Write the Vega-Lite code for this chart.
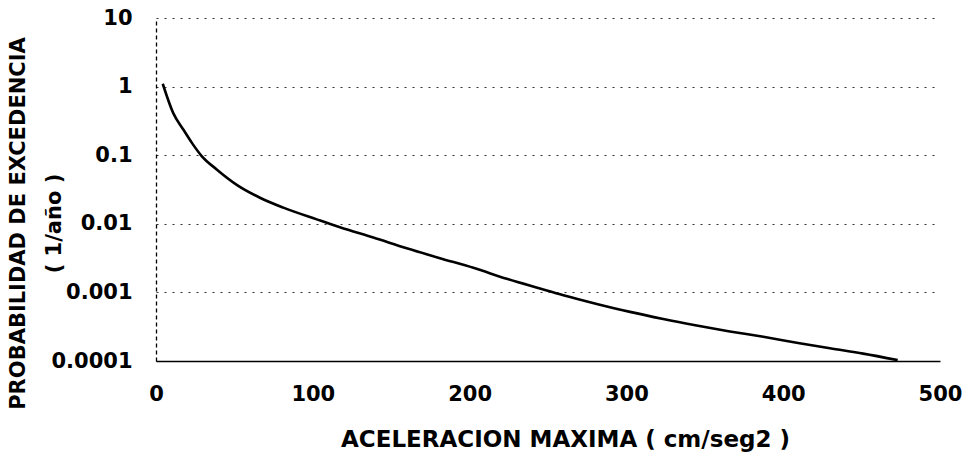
{
  "$schema": "https://vega.github.io/schema/vega-lite/v6.json",
  "autosize": {"type": "none"},
  "width": 784,
  "height": 343,
  "padding": {"left": 156, "top": 18, "right": 28, "bottom": 92},
  "background": "white",
  "config": {
    "view": {"stroke": null},
    "font": "DejaVu Sans"
  },
  "data": {
    "values": [
      {"a": 4.3, "p": 1.1},
      {"a": 11, "p": 0.41},
      {"a": 17.4, "p": 0.237},
      {"a": 23, "p": 0.15},
      {"a": 29, "p": 0.098},
      {"a": 38.7, "p": 0.062},
      {"a": 51.5, "p": 0.037},
      {"a": 66.3, "p": 0.024},
      {"a": 81.2, "p": 0.0172},
      {"a": 102.5, "p": 0.0116},
      {"a": 117.3, "p": 0.0089},
      {"a": 138.6, "p": 0.0063},
      {"a": 159.9, "p": 0.0044},
      {"a": 181.1, "p": 0.00315},
      {"a": 202.4, "p": 0.00228},
      {"a": 223.7, "p": 0.00158},
      {"a": 244.9, "p": 0.00114},
      {"a": 259.8, "p": 0.00091},
      {"a": 281.1, "p": 0.00068},
      {"a": 302.3, "p": 0.00052},
      {"a": 323.5, "p": 0.00041},
      {"a": 344.8, "p": 0.00033},
      {"a": 366, "p": 0.00027},
      {"a": 387.3, "p": 0.000225},
      {"a": 408.6, "p": 0.000185},
      {"a": 429.8, "p": 0.000153},
      {"a": 451, "p": 0.000128},
      {"a": 473, "p": 0.000103}
    ]
  },
  "mark": {"type": "line", "color": "black", "strokeWidth": 2.6, "interpolate": "monotone", "clip": true},
  "encoding": {
    "x": {
      "field": "a",
      "type": "quantitative",
      "scale": {"domain": [0, 500], "nice": false, "zero": false},
      "axis": {
        "values": [0, 100, 200, 300, 400, 500],
        "grid": false,
        "ticks": false,
        "tickSize": 0,
        "domainColor": "black",
        "domainWidth": 1.6,
        "labelFont": "DejaVu Sans",
        "labelFontSize": 21,
        "labelFontWeight": "bold",
        "labelColor": "black",
        "labelPadding": 22,
        "labelFlush": false,
        "title": "ACELERACION MAXIMA ( cm/seg2 )",
        "titleFont": "DejaVu Sans",
        "titleFontSize": 23,
        "titleFontWeight": "bold",
        "titleColor": "black",
        "titleX": 409,
        "titleY": 85,
        "titleAnchor": null,
        "titleAlign": "center",
        "titleBaseline": "alphabetic"
      }
    },
    "y": {
      "field": "p",
      "type": "quantitative",
      "scale": {"type": "log", "domain": [0.0001, 10], "nice": false},
      "axis": {
        "values": [0.0001, 0.001, 0.01, 0.1, 1, 10],
        "labelExpr": "datum.value >= 1 ? format(datum.value, 'd') : format(datum.value, '.4~f')",
        "grid": true,
        "gridColor": "#333333",
        "gridDash": [2, 6],
        "gridWidth": 1,
        "ticks": false,
        "tickSize": 0,
        "domainColor": "black",
        "domainDash": [4, 3],
        "domainWidth": 1.3,
        "labelFont": "DejaVu Sans",
        "labelFontSize": 21,
        "labelFontWeight": "bold",
        "labelColor": "black",
        "labelPadding": 24,
        "labelFlush": false,
        "title": ["PROBABILIDAD DE EXCEDENCIA", "( 1/año )"],
        "titleFont": "DejaVu Sans",
        "titleFontSize": 21,
        "titleFontWeight": "bold",
        "titleColor": "black",
        "titleLineHeight": 36,
        "titleAngle": -90,
        "titleX": -138,
        "titleY": 205,
        "titleAnchor": null,
        "titleAlign": "center",
        "titleBaseline": "middle"
      }
    }
  }
}
